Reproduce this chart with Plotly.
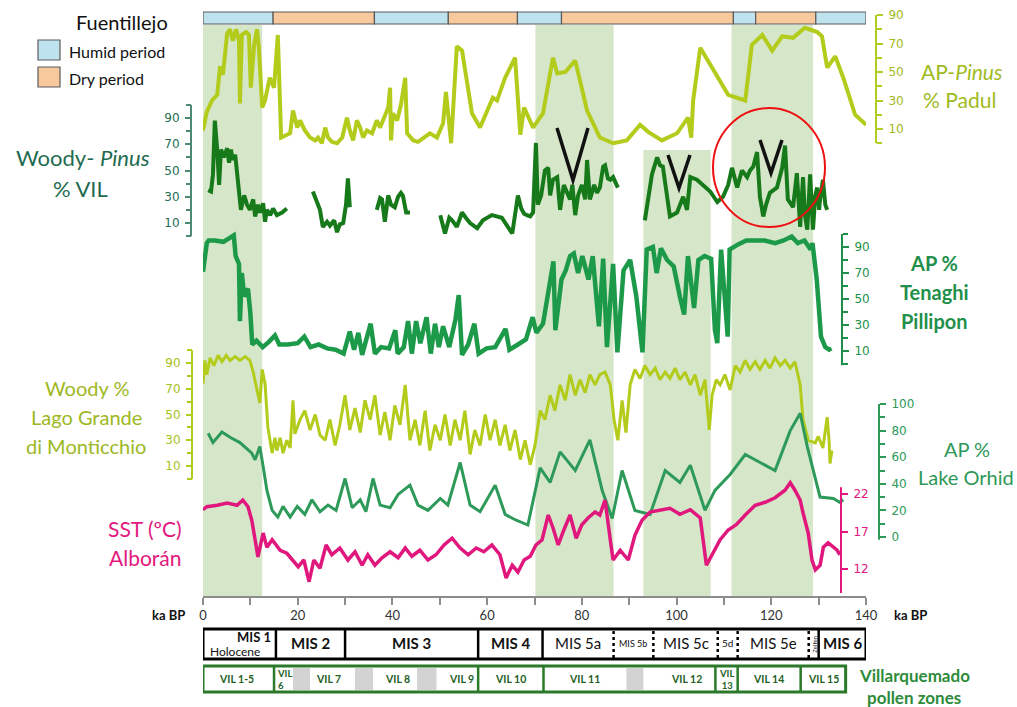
import plotly.graph_objects as go

# ---------------- data (ka BP, %) ----------------
padul_ka = [0, 0.8, 1.9, 3.0, 3.6, 4.2, 5.1, 5.7, 6.3, 7.0, 7.6, 7.8, 8.2, 9.1, 9.7, 10.1, 10.8, 11.4, 11.8, 12.5,
            13.1, 14.1, 15.0, 15.8, 16.5, 17.5, 18.4, 19.0, 19.9, 20.5, 21.5, 22.6, 23.7, 24.3, 25.1, 25.8, 26.4,
            27.2, 28.3, 29.4, 30.4, 31.0, 31.7, 32.5, 33.2, 33.8, 34.6, 35.7, 36.7, 37.4, 38.0, 39.1, 39.5, 39.7,
            40.1, 41.0, 41.8, 42.7, 43.1, 44.4, 45.4, 46.5, 47.9, 49.4, 50.7, 51.3, 51.7, 52.4, 53.6, 54.7, 56.8,
            58.5, 61.2, 62.1, 63.8, 65.9, 67.0, 67.8, 69.7, 71.8, 73.9, 74.8, 76.5, 78.6, 81.1, 83.8, 86.6, 89.5,
            92.3, 94.0, 96.9, 100.1, 102.4, 103.1, 103.5, 105.0, 110.9, 114.5, 115.9, 118.1, 120.2, 122.3, 124.6,
            127.1, 129.7, 130.7, 131.8, 133.5, 135.2, 137.7, 140.0]
padul_val = [9, 22, 30, 34, 54, 48, 77, 80, 72, 80, 72, 28, 76, 78, 76, 39, 69, 80, 67, 25,
             30, 46, 39, 76, 4, 6, 7, 23, 11, 16, 9, 4, 2, 4, 0, 11, 4,
             1, 0, 4, 18, 9, 2, 16, 11, 4, 9, 7, 16, 11, 16, 25, 39, 2,
             21, 16, 27, 46, 7, 2, 1, 4, 7, 4, 14, 36, 25, 0, 68, 65, 21,
             11, 32, 30, 46, 60, 6, 25, 11, 21, 60, 49, 50, 58, 23, 4, 0, 2,
             13, 8, 2, 7, 18, 4, 30, 67, 34, 30, 69, 76, 65, 75, 74,
             81, 78, 75, 53, 61, 46, 20, 13]

vil_ka = [1.1, 1.7, 2.1, 2.5, 3.0, 3.4, 3.8, 4.4, 5.1, 5.5, 5.9, 6.3, 6.8, 7.2, 7.6, 8.0, 8.7, 9.3, 9.9, 10.6,
          11.0, 11.6, 12.0, 12.7, 13.1, 13.5, 14.2, 14.8, 15.6, 16.7, 17.7, 20.0,
          23.2, 24.7, 25.3, 26.2, 26.8, 27.7, 28.3, 28.9, 29.6, 30.2, 30.6, 31.0, 34.0,
          36.7, 37.4, 37.8, 38.4, 39.1, 39.7, 40.5, 41.2, 41.8, 42.2, 42.9, 43.7, 47.0,
          50.1, 51.1, 52.0, 52.6, 53.6, 54.7, 55.5, 56.4, 57.9, 59.1, 61.0, 63.1, 65.3, 66.1, 66.5, 67.2, 67.8,
          68.4, 69.1, 69.7, 70.3, 70.7, 71.4, 72.2, 72.9, 73.3, 73.9, 74.8, 75.4, 76.2, 76.9, 77.5, 78.0, 78.6,
          79.2, 80.0, 80.7, 81.1, 81.7, 82.6, 83.2, 83.8, 84.5, 84.9, 85.5, 86.0, 86.6, 87.6, 90.0,
          93.3, 94.0, 94.8, 95.9, 96.5, 97.1, 97.8, 98.6, 100.1, 100.7, 101.4, 102.2, 102.9, 104.3, 105.6,
          107.1, 108.6, 109.8, 110.9, 111.7, 112.8, 113.8, 114.9, 115.5, 116.2, 117.0, 117.6, 118.3, 118.9,
          119.7, 121.2, 121.9, 122.3, 122.9, 123.5, 124.6, 125.4, 126.1, 126.7, 127.1, 127.6, 128.2, 128.6,
          128.8, 129.3, 129.7, 130.1, 130.3, 130.9, 131.4, 131.8]
vil_val = [35, 34, 47, 88, 66, 39, 66, 60, 67, 56, 66, 58, 62, 50, 37, 20, 31, 24, 20, 28,
           15, 24, 18, 25, 11, 20, 16, 21, 16, 18, 21, None,
           34, 20, 7, 11, 8, 12, 3, 9, 10, 24, 44, 22, None,
           20, 29, 28, 11, 31, 24, 22, 30, 33, 31, 18, 18, None,
           16, 2, 14, 12, 7, 18, 14, 10, 6, 12, 16, 14, 2, 20, 31, 21, 17,
           16, 15, 18, 71, 24, 31, 50, 52, 31, 43, 45, 20, 39, 33, 28, 39, 16,
           31, 39, 28, 58, 28, 39, 33, 37, 53, 54, 44, 43, 45, 37, None,
           12, 28, 47, 60, 54, 53, 35, 15, 18, 24, 30, 20, 45, 43, 39,
           34, 26, 30, 39, 52, 37, 50, 45, 50, 53, 64, 30, 15, 24,
           33, 37, 47, 52, 69, 28, 22, 48, 7, 45, 16, 5, 47, 8,
           5, 31, 37, 20, 28, 43, 24, 20]

tenaghi_ka = [0, 0.8, 1.2, 2.5, 4.3, 5.6, 6.5, 6.9, 7.6, 7.8, 8.2, 8.7, 9.5, 10.0, 10.4, 11.3, 12.6, 13.9, 15.2,
              16.1, 17.9, 20.0, 21.4, 22.7, 24.4, 26.2, 28.0, 29.7, 31.0, 31.9, 32.8, 33.6, 35.4, 36.3, 37.6,
              39.3, 40.6, 41.1, 42.4, 43.3, 44.1, 45.0, 45.9, 47.2, 48.1, 49.0, 49.8, 50.7, 52.0, 53.3, 54.0,
              54.7, 56.0, 57.3, 58.2, 59.9, 61.7, 63.9, 64.7, 66.5, 68.2, 69.6, 70.4, 71.8, 73.1, 74.0, 74.4,
              75.7, 76.6, 77.5, 78.3, 79.2, 80.1, 81.4, 82.3, 83.6, 84.5, 85.3, 86.6, 87.5, 88.8, 90.2, 91.5,
              92.8, 93.7, 95.0, 95.8, 96.7, 98.0, 99.4, 100.7, 101.6, 102.4, 103.7, 104.6, 105.9, 107.3, 108.1,
              108.6, 109.4, 110.8, 111.2, 113.0, 114.7, 116.5, 118.6, 120.8, 122.6, 124.3, 125.6, 127.0, 128.3,
              128.7, 129.6, 130.5, 131.4, 132.2, 132.7]
tenaghi_val = [71, 93, 95, 95, 94, 97, 99, 83, 77, 33, 70, 52, 58, 39, 15, 18, 13, 17, 22,
               15, 15, 16, 21, 13, 15, 12, 11, 8, 25, 11, 24, 7, 31, 8, 13,
               12, 26, 8, 13, 33, 8, 33, 16, 36, 8, 31, 13, 29, 13, 34, 53,
               7, 15, 31, 8, 12, 13, 27, 11, 15, 19, 36, 24, 31, 57, 79, 26,
               65, 72, 83, 85, 70, 83, 65, 83, 29, 81, 13, 77, 9, 72, 80, 52,
               9, 88, 90, 70, 89, 80, 75, 52, 38, 83, 43, 80, 83, 81, 26,
               16, 88, 21, 88, 92, 95, 95, 95, 93, 95, 98, 93, 95, 88,
               93, 65, 21, 13, 11, 12]

monticchio_ka = [0, 0.4, 0.8, 1.5, 2.3, 3.2, 4.0, 4.9, 5.7, 6.8, 7.8, 8.9, 9.9, 10.6, 11.4, 12.0, 12.5, 13.1, 13.7,
                 14.6, 15.2, 15.6, 16.3, 16.9, 17.7, 18.4, 19.0, 19.4, 20.5, 21.5, 22.6, 23.7, 24.7, 25.8, 26.8,
                 27.9, 28.9, 30.0, 31.0, 32.1, 33.2, 34.2, 35.3, 36.3, 37.4, 38.4, 39.5, 40.5, 41.6, 42.7, 43.7,
                 44.8, 45.8, 46.9, 47.9, 49.0, 50.1, 51.1, 52.2, 53.2, 54.3, 55.3, 56.4, 57.4, 58.5, 59.6, 60.6,
                 61.7, 62.7, 63.8, 64.8, 65.9, 67.0, 68.0, 69.1, 70.1, 71.2, 72.2, 73.3, 74.3, 75.4, 76.5, 77.5,
                 78.6, 79.6, 80.7, 81.7, 82.8, 83.8, 84.9, 86.0, 86.8, 87.6, 88.5, 89.3, 90.2, 91.2, 92.3, 93.3,
                 94.4, 95.5, 96.5, 97.6, 98.6, 99.7, 100.7, 101.8, 102.9, 103.9, 105.0, 106.0, 106.9, 107.5, 108.4,
                 109.2, 110.2, 111.3, 112.4, 113.4, 114.5, 115.5, 116.6, 117.6, 118.7, 119.7, 120.8, 121.9, 122.9,
                 124.0, 125.0, 126.1, 126.7, 127.8, 129.3, 129.9, 130.9, 131.8, 132.2, 132.4, 132.8]
monticchio_val = [74, 92, 81, 94, 88, 96, 91, 96, 92, 95, 92, 95, 92, 83, 69, 59, 85, 74, 40,
                  20, 32, 22, 32, 20, 30, 24, 61, 35, 46, 53, 38, 50, 34, 30, 46,
                  26, 42, 65, 38, 55, 36, 61, 46, 65, 34, 52, 30, 57, 42, 73, 30,
                  46, 26, 53, 22, 42, 30, 50, 26, 46, 30, 53, 19, 38, 26, 50, 30,
                  46, 26, 42, 22, 38, 15, 30, 11, 26, 53, 46, 65, 53, 73, 61, 81,
                  65, 77, 67, 81, 73, 81, 83, 73, 46, 30, 61, 36, 73, 85, 78, 88,
                  81, 86, 77, 83, 78, 86, 77, 83, 73, 81, 65, 77, 38, 65, 77,
                  73, 81, 69, 88, 83, 92, 85, 91, 85, 92, 86, 94, 88, 92,
                  86, 91, 73, 46, 30, 28, 33, 24, 48, 30, 12, 22]

orhid_ka = [1.1, 2.1, 4.0, 5.7, 7.8, 10.3, 11.0, 12.0, 12.7, 13.5, 14.6, 15.8, 16.9, 18.4, 19.9, 21.5, 23.0, 24.7,
            26.4, 28.1, 30.0, 31.5, 33.2, 34.4, 35.9, 37.4, 39.5, 41.2, 43.7, 45.4, 47.5, 50.1, 51.7, 54.3, 56.4,
            58.5, 61.7, 63.8, 65.9, 68.6, 71.2, 73.3, 75.4, 78.6, 81.7, 84.3, 86.4, 88.5, 91.2, 94.4, 97.6, 100.7,
            102.9, 106.0, 108.1, 111.3, 114.5, 117.6, 120.8, 124.0, 126.1, 127.6, 130.3, 133.1, 134.5, 135.2]
orhid_val = [78, 71, 79, 75, 71, 63, 58, 68, 53, 35, 20, 15, 23, 15, 23, 17, 28, 19,
             24, 20, 44, 22, 28, 19, 44, 24, 22, 32, 39, 24, 20, 29, 24, 56, 24,
             19, 39, 17, 13, 9, 52, 41, 64, 50, 73, 35, 14, 50, 20, 17, 50, 41,
             54, 20, 35, 47, 62, 56, 50, 80, 93, 68, 30, 29, 26, 28]

sst_ka = [0, 0.8, 3.0, 5.1, 7.2, 8.4, 9.5, 10.3, 11.0, 11.6, 12.7, 13.5, 14.6, 16.3, 17.7, 19.0, 20.1, 21.3, 22.4,
          23.4, 24.7, 26.0, 27.2, 28.9, 30.6, 32.1, 33.6, 34.8, 36.3, 37.8, 39.5, 41.2, 42.7, 44.1, 45.8, 47.5,
          49.2, 50.9, 52.6, 54.3, 56.0, 57.7, 59.3, 61.0, 62.7, 64.0, 65.3, 66.5, 67.8, 69.1, 70.3, 71.6, 72.9,
          73.9, 75.0, 76.2, 77.5, 78.8, 80.0, 81.3, 82.8, 83.8, 84.9, 86.0, 86.6, 88.1, 89.8, 91.2, 92.7, 94.4,
          96.5, 98.6, 100.7, 102.9, 105.0, 106.3, 107.5, 109.2, 110.9, 112.6, 114.5, 116.6, 118.7, 120.8, 122.9,
          124.0, 125.0, 126.1, 126.7, 127.8, 128.6, 129.3, 130.3, 131.0, 132.0, 133.1, 133.9, 134.5]
sst_val = [19.9, 20.3, 20.5, 20.8, 20.5, 21.2, 20.3, 18.5, 15.9, 13.6, 16.8, 14.9, 15.9, 14.5, 14.1, 13.2, 12.3,
           13.2, 10.3, 13.2, 12.1, 15.2, 13.9, 14.8, 13.2, 14.3, 12.5, 13.9, 12.5, 13.5, 14.3, 13.5, 14.8, 13.7,
           14.5, 13.2, 13.9, 15.2, 16.1, 14.8, 13.9, 14.8, 14.3, 15.2, 13.9, 10.8, 12.5, 11.6, 13.2, 13.7, 15.2,
           15.9, 19.2, 17.5, 15.2, 17.2, 19.2, 16.1, 17.9, 18.8, 19.6, 19.2, 21.2, 15.9, 13.2, 14.5, 13.2, 16.5,
           18.5, 19.6, 19.9, 20.1, 19.3, 19.9, 18.8, 12.5, 13.9, 15.9, 17.2, 17.9, 19.2, 20.5, 20.9, 21.5, 22.5,
           23.5, 22.5, 21.2, 19.5, 16.8, 13.2, 11.9, 12.5, 14.9, 15.5, 14.9, 14.5, 13.9]

fuentillejo_bounds = [0, 14.8, 36.2, 51.8, 66.4, 75.7, 112.0, 116.7, 129.4, 140.0]
fuentillejo_period = ["Humid", "Dry", "Humid", "Dry", "Humid", "Dry", "Humid", "Dry", "Humid"]
warm_bands = [(0, 12.5), (70.2, 86.7), (93.0, 107.2), (111.6, 128.8)]

mis_bounds = [0, 15.4, 30.0, 58.1, 71.7, 86.7, 95.1, 108.7, 112.9, 127.9, 130.0, 140.0]
mis_solid = [15.4, 30.0, 58.1, 71.7, 130.0]
mis_dotted = [86.7, 95.1, 108.7, 112.9, 127.9]
mis_labels = ["MIS 1", "MIS 2", "MIS 3", "MIS 4", "MIS 5a", "MIS 5b", "MIS 5c", "5d", "MIS 5e", "Zeifen", "MIS 6"]

vil_bounds = [0, 15.0, 58.1, 71.9, 108.2, 112.9, 126.2, 135.7]
vil_gaps = [(19.0, 22.6), (32.1, 35.9), (45.2, 49.3), (89.4, 93.0)]
vil_zone_labels = ["VIL 1-5", "VIL<br>6", "VIL 7", "VIL 8", "VIL 9", "VIL 10", "VIL 11", "VIL 12", "VIL<br>13", "VIL 14", "VIL 15"]
vil_zone_pos = [7.0, 15.3, 26.4, 41.0, 54.5, 65.0, 80.5, 102.0, 110.6, 119.5, 131.0]

# ---------------- layout helpers ----------------
W, H = 1017, 707
XL, XR = 203, 866
YTOP, YBOT = 12, 597      # plotting area (pixels)
BAND_TOP = 25


def PX(x):
    return x / W


def PY(y):
    return 1 - y / H


def yrange(v_a, p_a, v_b, p_b):
    s = (p_b - p_a) / (v_a - v_b)
    return [v_b - (YBOT - p_b) / s, v_a + (p_a - YTOP) / s]


C_PADUL = "#b3cc1c"
C_VIL = "#177a1a"
C_TEN = "#1c9a4a"
C_MON = "#b3cc1c"
C_ORH = "#2e9a5a"
C_SST = "#e0177c"

fig = go.Figure()
fig.add_trace(go.Scatter(x=padul_ka, y=padul_val, mode="lines", yaxis="y",
                         line=dict(color=C_PADUL, width=4), hoverinfo="skip"))
fig.add_trace(go.Scatter(x=vil_ka, y=vil_val, mode="lines", yaxis="y2", connectgaps=False,
                         line=dict(color=C_VIL, width=4), hoverinfo="skip"))
fig.add_trace(go.Scatter(x=tenaghi_ka, y=tenaghi_val, mode="lines", yaxis="y3",
                         line=dict(color=C_TEN, width=4.5), hoverinfo="skip"))
fig.add_trace(go.Scatter(x=monticchio_ka, y=monticchio_val, mode="lines", yaxis="y4",
                         line=dict(color=C_MON, width=3), hoverinfo="skip"))
fig.add_trace(go.Scatter(x=orhid_ka, y=orhid_val, mode="lines", yaxis="y5",
                         line=dict(color=C_ORH, width=3), hoverinfo="skip"))
fig.add_trace(go.Scatter(x=sst_ka, y=sst_val, mode="lines", yaxis="y6",
                         line=dict(color=C_SST, width=3.5), hoverinfo="skip"))


def yax(rng, pos, side, color, fcolor, tickvals, minor_vals, overlay=True):
    d = dict(range=rng, domain=[PY(YBOT), PY(YTOP)], anchor="free", position=pos, side=side,
             showgrid=False, zeroline=False, showline=False, ticks="outside", ticklen=6,
             tickwidth=1.5, tickcolor=color, tickvals=tickvals, ticktext=[str(v) for v in tickvals],
             tickfont=dict(family="DejaVu Sans", size=12, color=fcolor), ticklabelstandoff=3,
             minor=dict(tickvals=minor_vals, ticks="outside", ticklen=5, tickcolor=color, tickwidth=1.5),
             fixedrange=True, automargin=False)
    if overlay:
        d["overlaying"] = "y"
    return d


odd = [90, 70, 50, 30, 10]
even = [100, 80, 60, 40, 20, 0]

layout_axes = dict(
    yaxis=yax(yrange(90, 15, 10, 129), PX(876), "right", C_PADUL, "#9fb91c", odd, [80, 60, 40, 20, 0], overlay=False),
    yaxis2=yax(yrange(90, 118, 10, 223), PX(191), "left", "#4d8a72", "#236e55", odd, even),
    yaxis3=yax(yrange(90, 247, 10, 351), PX(842), "right", "#1e8f48", "#1e8f48", odd, even),
    yaxis4=yax(yrange(90, 363, 10, 466), PX(192), "left", C_MON, "#a6c21c", odd, even),
    yaxis5=yax(yrange(100, 404, 0, 537), PX(879), "right", C_ORH, C_ORH, [100, 80, 60, 40, 20, 0], [90, 70, 50, 30, 10]),
    yaxis6=yax(yrange(22, 494, 12, 569), PX(841), "right", C_SST, C_SST, [22, 17, 12], []),
)

shapes = []
# warm-period shading
band_tops = [BAND_TOP, BAND_TOP, 150, BAND_TOP]
for (a, b), top in zip(warm_bands, band_tops):
    shapes.append(dict(type="rect", xref="x", yref="paper", x0=a, x1=b, y0=PY(YBOT), y1=PY(top),
                       fillcolor="#d6e6c9", line=dict(width=0), layer="below"))

# axis lines for each record
axis_lines = [("y", PX(876), 0, 90, C_PADUL), ("y2", PX(191), 0, 100, "#4d8a72"),
              ("y3", PX(842), -1, 100, "#1e8f48"), ("y4", PX(192), 0, 100, C_MON),
              ("y5", PX(879), -2, 100, C_ORH), ("y6", PX(841), 8.8, 22.9, C_SST)]
for ref, xp, a, b, c in axis_lines:
    shapes.append(dict(type="line", xref="paper", yref=ref, x0=xp, x1=xp, y0=a, y1=b,
                       line=dict(color=c, width=2)))

# Fuentillejo bar
FCOL = {"Humid": "#bfe2ef", "Dry": "#f8c99c"}
for i, p in enumerate(fuentillejo_period):
    shapes.append(dict(type="rect", xref="x", yref="paper", x0=fuentillejo_bounds[i], x1=fuentillejo_bounds[i + 1],
                       y0=PY(24), y1=PY(12), fillcolor=FCOL[p], line=dict(color="#5a5a5a", width=1.2)))
# legend boxes
shapes.append(dict(type="rect", xref="paper", yref="paper", x0=PX(38), x1=PX(60), y0=PY(60), y1=PY(40),
                   fillcolor=FCOL["Humid"], line=dict(color="#5a5a5a", width=1.2)))
shapes.append(dict(type="rect", xref="paper", yref="paper", x0=PX(38), x1=PX(60), y0=PY(87), y1=PY(67),
                   fillcolor=FCOL["Dry"], line=dict(color="#5a5a5a", width=1.2)))

# MIS box
shapes.append(dict(type="rect", xref="x", yref="paper", x0=mis_bounds[0], x1=mis_bounds[-1], y0=PY(659), y1=PY(629),
                   line=dict(color="black", width=3)))
for b in mis_solid:
    shapes.append(dict(type="line", xref="x", yref="paper", x0=b, x1=b, y0=PY(659), y1=PY(629),
                       line=dict(color="black", width=2.5)))
for b in mis_dotted:
    shapes.append(dict(type="line", xref="x", yref="paper", x0=b, x1=b, y0=PY(658), y1=PY(630),
                       line=dict(color="black", width=2.5, dash="dot")))

# VIL pollen zones box
shapes.append(dict(type="rect", xref="x", yref="paper", x0=vil_bounds[0], x1=vil_bounds[-1], y0=PY(692), y1=PY(666),
                   line=dict(color="#2a7a2a", width=3)))
for b in vil_bounds[1:-1]:
    shapes.append(dict(type="line", xref="x", yref="paper", x0=b, x1=b, y0=PY(692), y1=PY(666),
                       line=dict(color="#2a7a2a", width=2.5)))
for a, b in vil_gaps:
    shapes.append(dict(type="rect", xref="x", yref="paper", x0=a, x1=b, y0=PY(690), y1=PY(668),
                       fillcolor="#d3d3d3", line=dict(width=0)))

# V marks
for (x0, yt, xm, yb, x1) in [(557, 128, 573, 180, 588), (668, 155, 679, 188, 690), (760, 140, 771, 173, 782)]:
    shapes.append(dict(type="path", xref="paper", yref="paper",
                       path=f"M {PX(x0)},{PY(yt)} L {PX(xm)},{PY(yb)} L {PX(x1)},{PY(yt)}",
                       line=dict(color="#111111", width=3.5)))
# red circle
shapes.append(dict(type="circle", xref="paper", yref="paper", x0=PX(713), x1=PX(825), y0=PY(227), y1=PY(108),
                   line=dict(color="#ee1111", width=2)))

ann = []


def text(x, y, s, size, color, bold=False, xanchor="center", family="Lato", angle=0, align="center", xref="paper"):
    if bold:
        s = "<b>" + s + "</b>"
    ann.append(dict(x=x if xref == "x" else PX(x), y=PY(y), xref=xref, yref="paper", text=s, showarrow=False,
                    xanchor=xanchor, yanchor="middle", align=align, textangle=angle,
                    font=dict(family=family, size=size, color=color)))


text(122, 22, "Fuentillejo", 20, "#111111")
text(67, 51, "Humid period", 16, "#111111", xanchor="left")
text(67, 78, "Dry period", 16, "#111111", xanchor="left")

text(919, 71, "AP-<i>Pinus</i>", 21, "#a0bb1e", xanchor="left")
text(921, 99, "% Padul", 21, "#a0bb1e", xanchor="left")

text(83, 158, "Woody- <i>Pinus</i>", 22, "#1f6b50")
text(80, 188, "% VIL", 22, "#1f6b50")

text(934, 263, "AP %", 20, "#22904a", bold=True)
text(934, 292, "Tenaghi", 20, "#22904a", bold=True)
text(934, 321, "Pillipon", 20, "#22904a", bold=True)

text(87, 388, "Woody %", 20, "#9db81e")
text(86, 417, "Lago Grande", 20, "#9db81e")
text(86, 446, "di Monticchio", 20, "#9db81e")

text(967, 449, "AP %", 20, "#2e9858")
text(966, 477, "Lake Orhid", 20, "#2e9858")

text(145, 528, "SST (ºC)", 21, "#e2187e")
text(145, 557, "Alborán", 21, "#e2187e")

text(168, 615, "ka BP", 13, "#111111", bold=True)
text(910, 615, "ka BP", 13, "#111111", bold=True)

# MIS labels
mis_style = {"MIS 1": (13, True), "MIS 2": (15, True), "MIS 3": (15, True), "MIS 4": (15, True),
             "MIS 5a": (15, False), "MIS 5b": (9, False), "MIS 5c": (15, False), "5d": (10, False),
             "MIS 5e": (15, False), "Zeifen": (6, False), "MIS 6": (15, True)}
for i, lab in enumerate(mis_labels):
    size, bold = mis_style[lab]
    c = (mis_bounds[i] + mis_bounds[i + 1]) / 2
    if lab == "MIS 1":
        text(10.8, 637, lab, size, "#111111", bold=True, xref="x")
        text(6.8, 651, "Holocene", 12, "#111111", xref="x")
    elif lab == "Zeifen":
        text(c, 644, lab, size, "#111111", angle=-90, xref="x")
    else:
        text(c, 643, lab, size, "#111111", bold=bold, xref="x")

for lab, pos in zip(vil_zone_labels, vil_zone_pos):
    if lab == "VIL<br>6":
        text(pos, 679, lab, 9.5, "#24601f", bold=True, xref="x", align="left", xanchor="left")
    elif "<br>" in lab:
        text(pos, 679, lab, 9.5, "#24601f", bold=True, xref="x")
    else:
        text(pos, 679, lab, 10.5, "#24601f", bold=True, xref="x")

text(914, 675, "Villarquemado", 17, "#2e8b3a", bold=True)
text(914, 697, "pollen zones", 17, "#2e8b3a", bold=True)

fig.update_layout(
    width=W, height=H, autosize=False,
    margin=dict(l=0, r=0, t=0, b=0, pad=0, autoexpand=False),
    paper_bgcolor="white", plot_bgcolor="rgba(0,0,0,0)",
    showlegend=False,
    font=dict(family="Lato", color="#111111"),
    xaxis=dict(domain=[PX(XL), PX(XR)], range=[0, 140], anchor="free", position=PY(YBOT),
               showline=True, linecolor="#8c8c8c", linewidth=1.5, showgrid=False, zeroline=False,
               ticks="outside", ticklen=7, tickwidth=1.5, tickcolor="#8c8c8c",
               tickvals=list(range(0, 141, 20)),
               minor=dict(tickvals=list(range(10, 140, 20)), ticks="outside", ticklen=7,
                          tickcolor="#8c8c8c", tickwidth=1.5),
               tickfont=dict(family="Lato", size=13, color="#333333"), fixedrange=True, automargin=False),
    shapes=shapes,
    annotations=ann,
    **layout_axes,
)

fig.write_html("out.html", config={"displayModeBar": False, "responsive": False},
               post_script="document.body.style.margin='0';document.body.style.overflow='hidden';")
